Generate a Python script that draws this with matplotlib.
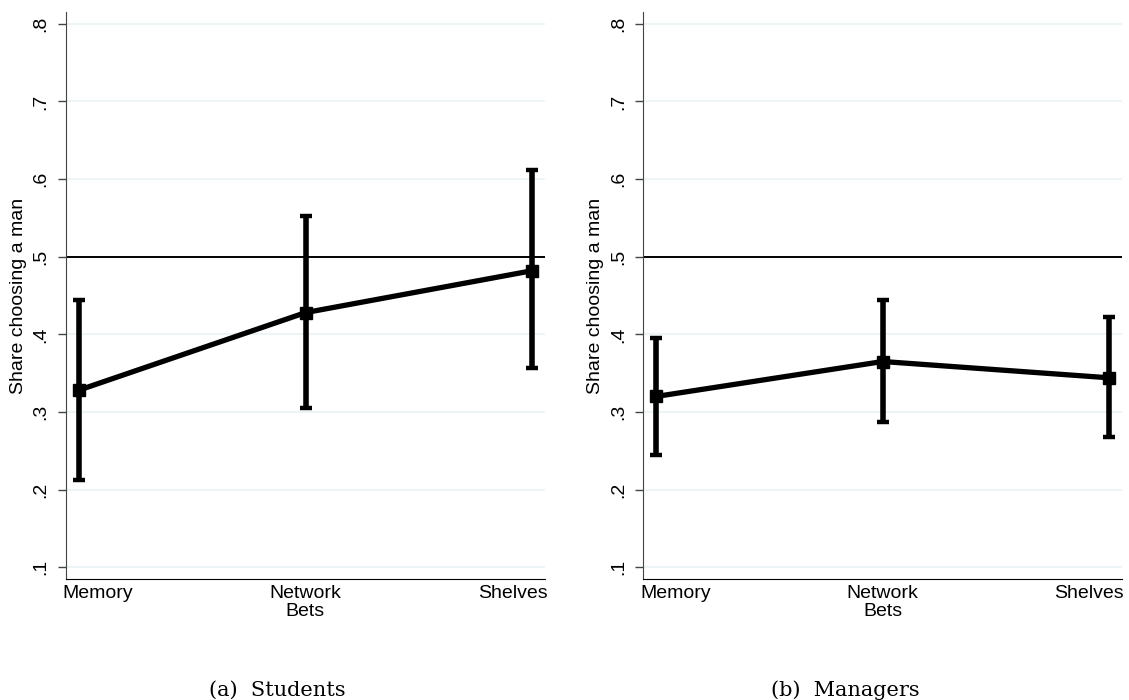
import matplotlib.pyplot as plt
import matplotlib.transforms as mtransforms

plt.rcParams['font.family'] = ['Liberation Sans', 'DejaVu Sans']

categories = ["Memory", "Network\nBets", "Shelves"]
ytick_vals = [0.1, 0.2, 0.3, 0.4, 0.5, 0.6, 0.7, 0.8]
ytick_labels = [".1", ".2", ".3", ".4", ".5", ".6", ".7", ".8"]

students_mean = [0.328, 0.428, 0.482]
students_lo = [0.212, 0.305, 0.356]
students_hi = [0.444, 0.552, 0.611]

managers_mean = [0.320, 0.365, 0.344]
managers_lo = [0.245, 0.287, 0.268]
managers_hi = [0.395, 0.444, 0.422]

captions = ["(a)  Students", "(b)  Managers"]


def draw_panel(fig, ax, mean, lo, hi):
    x = list(range(len(categories)))
    err = [[m - l for m, l in zip(mean, lo)], [h - m for m, h in zip(mean, hi)]]
    for v in ytick_vals:
        ax.axhline(v, color="#eaf2f3", lw=1.2, zorder=0)
    ax.axhline(0.5, color="black", lw=1.4, zorder=1)
    ax.errorbar(x, mean, yerr=err, fmt="none", ecolor="black", elinewidth=4,
                capsize=4.3, capthick=3.2, zorder=2)
    ax.plot(x, mean, color="black", lw=3.8, marker="s", markersize=8, zorder=3)

    ax.set_xlim(-0.057, 2.055)
    ax.set_ylim(0.0845, 0.8155)
    ax.set_xticks(x)
    ax.set_xticklabels([])
    ax.tick_params(axis="x", length=0)

    # category labels: first/last kept inside the plot edges, like the original
    trans = mtransforms.blended_transform_factory(ax.transAxes, ax.transAxes)
    down = mtransforms.offset_copy(trans, fig=fig, x=0, y=-4, units="points")
    ax.text(-0.006, 0, categories[0], transform=down, ha="left", va="top", fontsize=14)
    ax.text(0.5, 0, categories[1], transform=down, ha="center", va="top",
            fontsize=14, linespacing=1.1, multialignment="center")
    ax.text(1.005, 0, categories[2], transform=down, ha="right", va="top", fontsize=14)

    ax.set_yticks(ytick_vals)
    ax.set_yticklabels(ytick_labels, fontsize=14, rotation=90, va="center")
    ax.tick_params(axis="y", length=5.8, width=1, color="#444444", pad=6)
    ax.set_ylabel("Share choosing a man", fontsize=14, labelpad=4)
    for s in ["top", "right"]:
        ax.spines[s].set_visible(False)
    ax.spines["left"].set_color("#444444")
    ax.spines["bottom"].set_color("black")


fig = plt.figure(figsize=(11.29, 7), dpi=100)
ax1 = fig.add_axes([0.0582, 0.1724, 0.4245, 0.8109])
ax2 = fig.add_axes([0.5698, 0.1724, 0.4237, 0.8109])

draw_panel(fig, ax1, students_mean, students_lo, students_hi)
draw_panel(fig, ax2, managers_mean, managers_lo, managers_hi)

fig.text(0.2453, 0.006, captions[0], fontsize=15, family="DejaVu Serif", ha="center", va="baseline")
fig.text(0.7485, 0.006, captions[1], fontsize=15, family="DejaVu Serif", ha="center", va="baseline")

fig.savefig("out.png", dpi=100)
